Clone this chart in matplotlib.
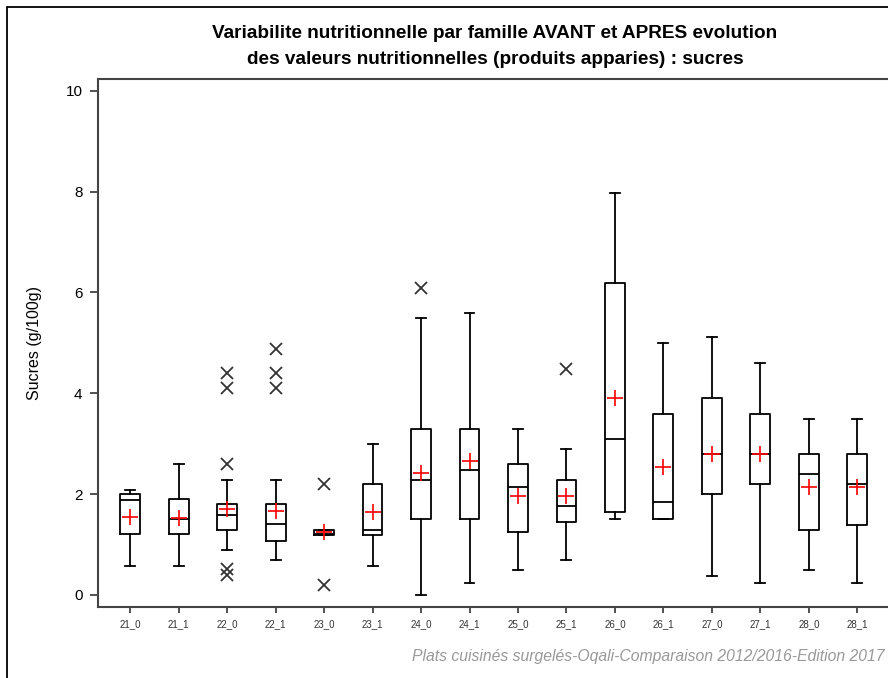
import matplotlib
matplotlib.use("Agg")
import matplotlib.pyplot as plt
from matplotlib.patches import Rectangle
from matplotlib import font_manager as fm

labels = ['21_0', '21_1', '22_0', '22_1', '23_0', '23_1', '24_0', '24_1',
          '25_0', '25_1', '26_0', '26_1', '27_0', '27_1', '28_0', '28_1']
whislo = [0.58, 0.58, 0.89, 0.70, 1.185, 0.58, 0.00, 0.24, 0.50, 0.70, 1.50, 1.50, 0.38, 0.24, 0.50, 0.24]
q1     = [1.20, 1.20, 1.28, 1.08, 1.185, 1.19, 1.50, 1.50, 1.25, 1.44, 1.64, 1.50, 2.01, 2.21, 1.28, 1.39]
med    = [1.89, 1.51, 1.59, 1.40, 1.20, 1.28, 2.29, 2.48, 2.15, 1.76, 3.10, 1.84, 2.79, 2.79, 2.40, 2.21]
q3     = [2.00, 1.90, 1.80, 1.80, 1.295, 2.20, 3.29, 3.29, 2.60, 2.29, 6.19, 3.59, 3.90, 3.59, 2.79, 2.79]
whishi = [2.09, 2.59, 2.28, 2.28, 1.295, 2.99, 5.50, 5.59, 3.29, 2.90, 7.98, 5.00, 5.11, 4.60, 3.49, 3.49]
means  = [1.55, 1.53, 1.71, 1.67, 1.24, 1.64, 2.42, 2.65, 1.97, 1.97, 3.90, 2.54, 2.80, 2.79, 2.14, 2.14]
fliers = {
    '22_0': [4.41, 4.10, 2.59, 0.52, 0.40],
    '22_1': [4.88, 4.41, 4.10],
    '23_0': [2.20, 0.19],
    '24_0': [6.08],
    '25_1': [4.49],
}

names = {f.name for f in fm.fontManager.ttflist}
narrow = 'Liberation Sans Narrow' if 'Liberation Sans Narrow' in names else 'Liberation Sans'
plt.rcParams['font.family'] = ['Liberation Sans', 'DejaVu Sans']

W, H = 888, 678
fig = plt.figure(figsize=(W / 100, H / 100), dpi=100)

# outer frame (extends past right/bottom edges)
fig.patches.append(Rectangle((7 / W, -0.1), 1.2, (H - 7) / H + 0.1,
                             transform=fig.transFigure, fill=False,
                             edgecolor='black', linewidth=1.3))

left, right, top, bottom = 97.7, 889.8, 79, 607
ax = fig.add_axes([left / W, (H - bottom) / H, (right - left) / W, (bottom - top) / H])

stats = []
for i, lab in enumerate(labels):
    stats.append(dict(label=lab, whislo=whislo[i], q1=q1[i], med=med[i],
                      q3=q3[i], whishi=whishi[i], mean=means[i],
                      fliers=fliers.get(lab, [])))

line = dict(color='black', linewidth=1.3)
ax.bxp(stats, positions=range(len(labels)), widths=0.41, showmeans=True,
       boxprops=line, whiskerprops=line, capprops=line,
       medianprops=dict(color='black', linewidth=1.3),
       meanprops=dict(marker='+', markeredgecolor='red', markerfacecolor='red',
                      markersize=11, markeredgewidth=1.2, linestyle='none'),
       flierprops=dict(marker='x', markeredgecolor='#333333', markersize=9,
                       markeredgewidth=1.3, linestyle='none'),
       manage_ticks=False)

ax.set_xlim(-0.67, 15.67)
ax.set_ylim(-0.238, 10.232)
ax.set_xticks(range(len(labels)))
ax.set_xticklabels(labels, fontsize=7, color='#333333', family=[narrow, 'DejaVu Sans'])
ax.set_yticks([0, 2, 4, 6, 8, 10])
ax.tick_params(axis='y', length=6, width=1.2, pad=5, labelsize=11, colors='#333333', labelcolor='black')
ax.tick_params(axis='x', length=4, width=1.2, pad=5, colors='#333333')
for s in ax.spines.values():
    s.set_color('#444444')
    s.set_linewidth(1.5)

ax.set_ylabel('Sucres (g/100g)', fontsize=11.5, labelpad=17)

fig.text(495 / W, 1 - 33 / H,
         'Variabilite nutritionnelle par famille AVANT et APRES evolution',
         ha='center', va='center', fontsize=13.7, fontweight='bold',
         family=[narrow, 'DejaVu Sans'])
fig.text(495 / W, 1 - 59 / H,
         'des valeurs nutritionnelles (produits apparies) : sucres',
         ha='center', va='center', fontsize=13.7, fontweight='bold',
         family=[narrow, 'DejaVu Sans'])

fig.text(884 / W, 1 - 656 / H,
         'Plats cuisinés surgelés-Oqali-Comparaison 2012/2016-Edition 2017',
         ha='right', va='center', fontsize=11.3, style='italic', color='#999999',
         family=[narrow, 'DejaVu Sans'])

fig.savefig('out.png', dpi=100)
